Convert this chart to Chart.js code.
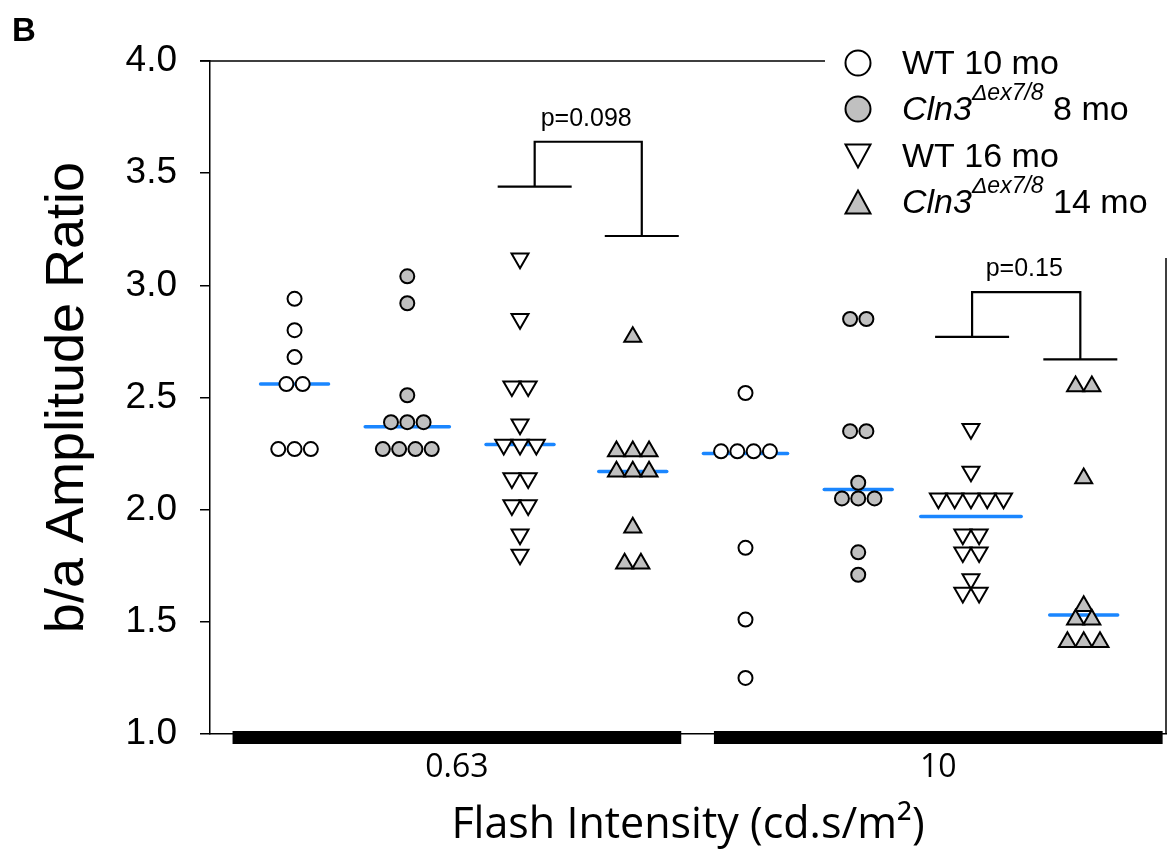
<!DOCTYPE html>
<html>
<head>
<meta charset="utf-8">
<script src="https://cdn.jsdelivr.net/npm/chart.js@4.4.1/dist/chart.umd.min.js"></script>
<style>
html,body{margin:0;padding:0;background:#fff;}
#wrap{width:1169px;height:852px;position:relative;}
</style>
</head>
<body>
<div id="wrap"><canvas id="c" width="1169" height="852"></canvas></div>
<script>
// ---------------- DATA ----------------
const intensityLabels = ['0.63', '10'];
const intensityTickPos = [2.44, 6.71];
const intensityBarStart = [0.45, 4.72];
const intensityBarEnd = [4.43, 8.70];

const groupNames = ['WT 10 mo', 'Cln3 8 mo', 'WT 16 mo', 'Cln3 14 mo'];
const groupPositions = [1, 2, 3, 4, 5, 6, 7, 8];

// 0.63 cd.s/m2
const wt10_063  = [2.94, 2.80, 2.68, 2.56, 2.56, 2.27, 2.27, 2.27];
const cln8_063  = [3.04, 2.92, 2.51, 2.39, 2.39, 2.39, 2.27, 2.27, 2.27, 2.27];
const wt16_063  = [3.12, 2.85, 2.55, 2.55, 2.38, 2.29, 2.29, 2.29, 2.14, 2.14, 2.02, 2.02, 1.89, 1.80];
const cln14_063 = [2.77, 2.26, 2.26, 2.26, 2.17, 2.17, 2.17, 1.92, 1.76, 1.76];
// 10 cd.s/m2
const wt10_10   = [2.52, 2.26, 2.26, 2.26, 2.26, 1.83, 1.51, 1.25];
const cln8_10   = [2.85, 2.85, 2.35, 2.35, 2.12, 2.05, 2.05, 2.05, 1.81, 1.71];
const wt16_10   = [2.36, 2.17, 2.05, 2.05, 2.05, 2.05, 2.05, 1.89, 1.89, 1.81, 1.81, 1.69, 1.63, 1.63];
const cln14_10  = [2.55, 2.55, 2.14, 1.57, 1.51, 1.51, 1.41, 1.41, 1.41];

const medians = [2.56, 2.37, 2.29, 2.17, 2.25, 2.09, 1.97, 1.53];

const yTickMin = 1.0, yTickMax = 4.0, yTickStep = 0.5;

// significance brackets
const pLabels       = ['p=0.098', 'p=0.15'];
const bracketLeftX  = [3.13, 7.01];
const bracketRightX = [4.08, 7.97];
const bracketLeftY  = [3.44, 2.77];
const bracketRightY = [3.22, 2.67];
const bracketTopY   = [3.64, 2.97];

// ---------------- STYLE ----------------
const groupSeries = [wt10_063, cln8_063, wt16_063, cln14_063, wt10_10, cln8_10, wt16_10, cln14_10];
const markerStyles = [
  {pointStyle: 'circle',   radius: 7,   rotation: 0,   fill: '#ffffff'},
  {pointStyle: 'circle',   radius: 7,   rotation: 0,   fill: '#c0c0c0'},
  {pointStyle: 'triangle', radius: 9.8, rotation: 180, fill: '#ffffff'},
  {pointStyle: 'triangle', radius: 9.8, rotation: 0,   fill: '#c0c0c0'}
];
const PX_PER_UNIT = 112.8;
const DODGE_PX = 16.3;

function dodge(values, center) {
  const counts = {}, seen = {};
  values.forEach(v => { const k = v.toFixed(2); counts[k] = (counts[k] || 0) + 1; });
  return values.map(v => {
    const k = v.toFixed(2);
    const i = seen[k] || 0; seen[k] = i + 1;
    const n = counts[k];
    return {x: center + (i - (n - 1) / 2) * DODGE_PX / PX_PER_UNIT, y: v};
  });
}
function maxRow(values) {
  const counts = {};
  values.forEach(v => { const k = v.toFixed(2); counts[k] = (counts[k] || 0) + 1; });
  return Math.max(...Object.values(counts));
}

const datasets = [];
groupSeries.forEach((vals, gi) => {
  const st = markerStyles[gi % 4];
  datasets.push({
    label: groupNames[gi % 4],
    data: dodge(vals, groupPositions[gi]),
    pointStyle: st.pointStyle,
    pointRadius: st.radius,
    pointRotation: st.rotation,
    pointBackgroundColor: st.fill,
    pointBorderColor: '#000',
    pointBorderWidth: 2,
    showLine: false,
    order: 0
  });
});
groupSeries.forEach((vals, gi) => {
  const half = Math.max(68, maxRow(vals) * DODGE_PX + 19) / 2 / PX_PER_UNIT;
  datasets.push({
    label: 'median',
    data: [{x: groupPositions[gi] - half, y: medians[gi]}, {x: groupPositions[gi] + half, y: medians[gi]}],
    showLine: true,
    borderColor: '#1a86ff',
    borderWidth: 3.5,
    borderCapStyle: 'round',
    pointRadius: 0,
    order: 1
  });
});

// ---------------- PLUGIN (frame, bars, brackets, legend) ----------------
const decor = {
  id: 'decor',
  afterDraw(chart) {
    const ctx = chart.ctx, xs = chart.scales.x, ys = chart.scales.y, ca = chart.chartArea;
    ctx.save();
    // partial frame (top and right), interrupted by the legend box
    ctx.strokeStyle = '#000'; ctx.lineWidth = 1.5;
    ctx.beginPath();
    ctx.moveTo(ca.left - 10, ca.top); ctx.lineTo(825, ca.top);
    ctx.moveTo(ca.right, 258); ctx.lineTo(ca.right, ca.bottom);
    ctx.stroke();
    // thick category bars
    ctx.fillStyle = '#000';
    intensityBarStart.forEach((s, i) => {
      const x1 = xs.getPixelForValue(s), x2 = xs.getPixelForValue(intensityBarEnd[i]);
      ctx.fillRect(x1, ca.bottom - 3, x2 - x1, 13);
    });
    // brackets
    ctx.lineWidth = 2.2;
    ctx.font = '25px "Liberation Sans", Arial, sans-serif';
    ctx.textAlign = 'center'; ctx.textBaseline = 'middle';
    pLabels.forEach((lab, i) => {
      const xl = xs.getPixelForValue(bracketLeftX[i]), xr = xs.getPixelForValue(bracketRightX[i]);
      const yl = ys.getPixelForValue(bracketLeftY[i]), yr = ys.getPixelForValue(bracketRightY[i]);
      const yt = ys.getPixelForValue(bracketTopY[i]);
      ctx.beginPath();
      ctx.moveTo(xl - 37, yl); ctx.lineTo(xl + 37, yl);
      ctx.moveTo(xl, yl); ctx.lineTo(xl, yt); ctx.lineTo(xr, yt); ctx.lineTo(xr, yr);
      ctx.moveTo(xr - 37, yr); ctx.lineTo(xr + 37, yr);
      ctx.stroke();
      ctx.fillStyle = '#000';
      ctx.fillText(lab, (xl + xr) / 2 - 2, yt - 23);
    });
    // legend
    const mx = 858, tx = 902, base = [74, 120, 167, 213];
    base.forEach((b, i) => {
      const cy = b - 11;
      ctx.lineWidth = 2; ctx.strokeStyle = '#000';
      ctx.fillStyle = markerStyles[i].fill;
      ctx.beginPath();
      if (i < 2) {
        ctx.arc(mx, cy, 12.5, 0, Math.PI * 2);
      } else if (i === 2) {
        ctx.moveTo(mx - 12.5, cy - 11.5); ctx.lineTo(mx + 12.5, cy - 11.5); ctx.lineTo(mx, cy + 11.5); ctx.closePath();
      } else {
        ctx.moveTo(mx - 12.5, cy + 11.5); ctx.lineTo(mx + 12.5, cy + 11.5); ctx.lineTo(mx, cy - 11.5); ctx.closePath();
      }
      ctx.fill(); ctx.stroke();
      ctx.fillStyle = '#000';
      ctx.textAlign = 'left'; ctx.textBaseline = 'alphabetic';
      const name = groupNames[i];
      if (name.startsWith('Cln3')) {
        ctx.font = 'italic 34px "Liberation Sans", Arial, sans-serif';
        ctx.fillText('Cln3', tx, b);
        let x = tx + ctx.measureText('Cln3').width;
        ctx.font = 'italic 23px "Liberation Sans", Arial, sans-serif';
        ctx.fillText('\u0394ex7/8', x, b - 20);
        x += ctx.measureText('\u0394ex7/8').width;
        ctx.font = '34px "Liberation Sans", Arial, sans-serif';
        ctx.fillText(name.slice(4), x, b);
      } else {
        ctx.font = '34px "Liberation Sans", Arial, sans-serif';
        ctx.fillText(name, tx, b);
      }
    });
    // panel letter
    ctx.font = 'bold 33px "Liberation Sans", Arial, sans-serif';
    ctx.fillStyle = '#000'; ctx.textAlign = 'left'; ctx.textBaseline = 'alphabetic';
    ctx.fillText('B', 12, 41);
    ctx.restore();
  }
};

// ---------------- CHART ----------------
new Chart(document.getElementById('c'), {
  type: 'scatter',
  data: {datasets},
  plugins: [decor],
  options: {
    responsive: false,
    animation: false,
    events: [],
    layout: {autoPadding: false, padding: {left: 0, top: 61, right: 3, bottom: 0}},
    plugins: {legend: {display: false}, tooltip: {enabled: false}},
    scales: {
      x: {
        type: 'linear', min: 0.25, max: 8.73,
        afterBuildTicks: s => { s.ticks = intensityTickPos.map(v => ({value: v})); },
        afterFit: s => { s.height = 118; s.paddingLeft = 0; s.paddingRight = 0; },
        grid: {display: false, drawTicks: false},
        border: {display: true, color: '#000', width: 1.5},
        ticks: {
          autoSkip: false, maxRotation: 0, padding: 15, color: '#000',
          font: {family: '"Open Sans", sans-serif', size: 32},
          callback: (v, i) => intensityLabels[i]
        },
        title: {
          display: true, text: 'Flash Intensity (cd.s/m\u00B2)', color: '#000',
          font: {family: '"Open Sans", sans-serif', size: 43},
          padding: {top: 0, bottom: 0}
        }
      },
      y: {
        min: yTickMin, max: yTickMax,
        afterFit: s => { s.width = 210; s.paddingTop = 0; s.paddingBottom = 0; },
        grid: {drawOnChartArea: false, drawTicks: true, tickLength: 10, color: '#000', lineWidth: 1.5},
        border: {display: true, color: '#000', width: 1.5},
        ticks: {
          stepSize: yTickStep, padding: 23, color: '#000',
          font: {family: '"Liberation Sans", Arial, sans-serif', size: 37},
          callback: v => v.toFixed(1)
        },
        title: {
          display: true, text: 'b/a Amplitude Ratio', color: '#000',
          font: {family: '"Liberation Sans", Arial, sans-serif', size: 54},
          padding: {top: 36, bottom: 0}
        }
      }
    }
  }
});
</script>
</body>
</html>
